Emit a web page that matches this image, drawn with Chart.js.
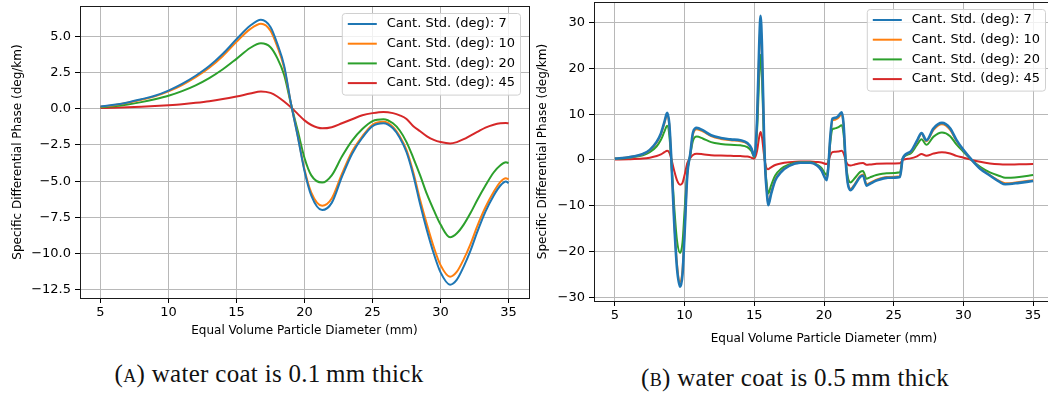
<!DOCTYPE html>
<html>
<head>
<meta charset="utf-8">
<script src="https://cdn.jsdelivr.net/npm/chart.js@4/dist/chart.umd.min.js"></script>
<style>
  html, body { margin: 0; padding: 0; background: #fff; overflow: hidden; }
  #wrap { position: relative; width: 1048px; height: 396px; overflow: hidden; }
  .panel { position: absolute; top: 0; width: 530px; height: 350px; }
  #panel-a { left: 0; }
  #panel-b { left: 524px; }
  .caption {
    position: absolute;
    font-family: 'Liberation Serif', 'DejaVu Serif', serif;
    font-size: 25px;
    letter-spacing: 0.3px;
    color: #111;
    white-space: nowrap;
    transform: translate(-50%, -50%);
  }
  .sc { font-variant: small-caps; }
</style>
</head>
<body>
<div id="wrap">
  <div class="panel" id="panel-a"><canvas id="chart-a"></canvas></div>
  <div class="panel" id="panel-b"><canvas id="chart-b"></canvas></div>
  <div class="caption" style="left:269px; top:374px;">(<span class="sc">a</span>) water coat is 0.1&#8201;mm thick</div>
  <div class="caption" style="left:795px; top:378px;">(<span class="sc">b</span>) water coat is 0.5&#8201;mm thick</div>
</div>
<script>
'use strict';

const LABELS  = ['Cant. Std. (deg): 7', 'Cant. Std. (deg): 10', 'Cant. Std. (deg): 20', 'Cant. Std. (deg): 45'];
const COLORS  = ['#1f77b4', '#ff7f0e', '#2ca02c', '#d62728'];
const X_TICKS = [5, 10, 15, 20, 25, 30, 35];

// (A) water coat 0.1 mm
const sizesA = [5, 6, 7, 8, 9, 10, 11, 12, 13, 14, 15, 16, 16.8, 17.5, 18, 18.5, 19, 19.5, 20, 20.5,
  21.3, 22, 22.75, 23.5, 24.25, 25, 25.8, 26.5, 27, 27.5, 28, 28.5, 29, 29.5, 30, 30.7,
  31.2, 31.7, 32.2, 32.7, 33.3, 33.9, 34.4, 34.8, 35];
const kdpA7  = [0.16, 0.28, 0.44, 0.66, 0.9, 1.26, 1.72, 2.28, 2.95, 3.8, 4.8, 5.73, 6.15, 5.65, 4.5, 3.0, 0.4, -1.9, -4.3, -6.0,
  -7.0, -6.5, -4.7, -3.1, -2.0, -1.2, -1.0, -1.35, -2.0, -3.0, -4.6, -6.6, -8.4, -10.0, -11.3, -12.15,
  -11.8, -10.9, -9.8, -8.5, -7.1, -6.0, -5.3, -5.02, -5.13];
const kdpA10 = [0.14, 0.25, 0.41, 0.62, 0.86, 1.2, 1.64, 2.18, 2.83, 3.65, 4.62, 5.5, 5.88, 5.4, 4.3, 2.85, 0.38, -1.85, -4.2, -5.8,
  -6.7, -6.2, -4.5, -2.95, -1.9, -1.1, -0.9, -1.25, -1.9, -2.85, -4.4, -6.3, -8.0, -9.55, -10.8, -11.6,
  -11.25, -10.4, -9.35, -8.1, -6.8, -5.75, -5.05, -4.8, -4.88];
const kdpA20 = [0.1, 0.18, 0.3, 0.46, 0.66, 0.9, 1.22, 1.62, 2.12, 2.73, 3.45, 4.2, 4.52, 4.25, 3.5, 2.35, 0.35, -1.5, -3.4, -4.6,
  -5.1, -4.6, -3.3, -2.2, -1.4, -0.85, -0.72, -1.0, -1.5, -2.3, -3.4, -4.6, -5.9, -7.0, -8.0, -8.88,
  -8.6, -8.0, -7.2, -6.3, -5.3, -4.4, -3.9, -3.7, -3.75];
const kdpA45 = [0.05, 0.07, 0.1, 0.14, 0.19, 0.25, 0.32, 0.41, 0.52, 0.67, 0.85, 1.05, 1.2, 1.1, 0.85, 0.5, 0.1, -0.35, -0.8, -1.12,
  -1.35, -1.27, -1.0, -0.72, -0.45, -0.3, -0.22, -0.3, -0.45, -0.7, -1.2, -1.55, -1.9, -2.15, -2.3, -2.4,
  -2.3, -2.1, -1.85, -1.6, -1.3, -1.1, -1.0, -0.98, -1.0];
const Y_TICKS_A = [5, 2.5, 0, -2.5, -5, -7.5, -10, -12.5];

// (B) water coat 0.5 mm
const sizesB = [5, 6, 7, 7.5, 8, 8.3, 8.55, 8.75, 8.9, 9.05, 9.25, 9.45, 9.68, 9.85, 10.0, 10.2, 10.4, 10.6, 10.87,
  11.3, 11.9, 12.6, 13.3, 14.0, 14.5, 14.8, 15.0, 15.2, 15.35, 15.45, 15.55, 15.7, 15.8, 15.9, 16.0,
  16.2, 16.5, 16.9, 17.5, 18.3, 19.0, 19.5, 19.8, 20.2, 20.3, 20.45, 20.6, 20.8, 21.0, 21.27, 21.4,
  21.55, 21.7, 21.9, 22.2, 22.6, 22.8, 23.05, 23.3, 23.76, 24.5, 25.45, 25.65, 26.2, 26.67, 27.0,
  27.34, 27.86, 28.46, 29.05, 29.5, 30.0, 30.6, 31.2, 31.9, 32.6, 33.0, 34.0, 35.0];
const kdpB7  = [0.3, 0.6, 1.3, 2.2, 4.0, 5.8, 8.3, 10.3, 8.0, 0.0, -13.5, -23.5, -27.7, -25.0, -16.0, -3.0, 1.2, 6.0, 7.0,
  6.5, 5.4, 4.8, 4.5, 4.3, 3.7, 2.5, 0.8, 9.0, 25.0, 31.5, 25.0, 5.0, -3.0, -7.2, -9.9,
  -7.5, -4.5, -2.7, -1.3, -0.6, -0.6, -1.2, -2.2, -4.4, -2.0, 5.0, 9.0, 9.2, 9.5, 10.4, 8.0,
  0.0, -5.0, -6.6, -5.5, -3.7, -3.4, -5.6, -5.2, -4.5, -3.9, -3.7, 0.3, 1.8, 4.2, 5.9,
  4.3, 6.9, 8.1, 6.9, 4.4, 2.2, 0.0, -1.9, -3.4, -4.8, -5.3, -5.0, -4.6];
const kdpB10 = [0.3, 0.58, 1.25, 2.1, 3.85, 5.6, 8.0, 9.9, 7.7, 0.0, -13.0, -22.6, -26.7, -24.0, -15.4, -2.9, 1.1, 5.6, 6.7,
  6.25, 5.2, 4.6, 4.3, 4.1, 3.55, 2.4, 0.8, 8.5, 23.5, 29.8, 23.5, 4.8, -2.8, -6.8, -9.5,
  -7.2, -4.3, -2.6, -1.25, -0.6, -0.6, -1.15, -2.1, -4.2, -1.9, 4.8, 8.6, 8.8, 9.1, 10.0, 7.7,
  0.0, -4.8, -6.3, -5.3, -3.5, -3.2, -5.3, -5.0, -4.3, -3.7, -3.55, 0.3, 1.7, 4.0, 5.7,
  4.1, 6.6, 7.8, 6.6, 4.2, 2.1, 0.0, -1.8, -3.3, -4.6, -5.1, -4.8, -4.4];
const kdpB20 = [0.25, 0.5, 1.0, 1.7, 3.0, 4.4, 6.2, 7.5, 5.5, -0.5, -10.0, -17.5, -20.3, -18.0, -11.0, -2.5, 1.0, 4.2, 5.1,
  4.7, 3.9, 3.5, 3.3, 3.2, 2.8, 1.9, 0.6, 6.5, 18.0, 23.0, 18.0, 3.5, -2.0, -5.5, -7.3,
  -5.6, -3.4, -2.0, -1.0, -0.5, -0.5, -1.0, -1.7, -3.3, -1.5, 3.8, 6.7, 6.9, 7.1, 7.6, 5.8,
  0.0, -3.6, -4.9, -4.0, -2.6, -2.4, -4.1, -3.8, -3.3, -2.9, -2.7, 0.4, 1.4, 3.3, 4.5,
  3.3, 5.1, 6.0, 5.2, 3.4, 1.8, 0.0, -1.5, -2.7, -3.5, -3.9, -3.7, -3.3];
const kdpB45 = [0.1, 0.15, 0.3, 0.5, 0.85, 1.2, 1.7, 2.0, 1.6, 0.2, -2.3, -4.4, -5.4, -5.0, -3.3, -0.6, 0.4, 1.1, 1.35,
  1.25, 1.05, 0.95, 0.9, 0.85, 0.75, 0.5, 0.3, 2.0, 5.0, 6.1, 5.0, 1.0, -1.0, -1.9, -2.0,
  -1.6, -1.1, -0.75, -0.5, -0.35, -0.35, -0.45, -0.55, -0.9, -0.4, 1.0, 1.7, 1.8, 1.85, 2.0, 1.5,
  0.0, -1.0, -1.2, -1.0, -0.7, -0.65, -1.05, -1.0, -0.85, -0.75, -0.7, 0.0, 0.35, 0.8, 1.3,
  0.9, 1.4, 1.7, 1.4, 0.9, 0.5, 0.0, -0.4, -0.75, -0.95, -1.0, -0.95, -0.9];
const Y_TICKS_B = [30, 20, 10, 0, -10, -20, -30];

Chart.defaults.font.family = '"DejaVu Sans", sans-serif';
Chart.defaults.color = '#000';

// matplotlib-style box around the axes
const spines = {
  id: 'spines',
  afterDatasetsDraw(chart) {
    const { ctx, chartArea: a } = chart;
    ctx.save();
    ctx.strokeStyle = '#1a1a1a';
    ctx.lineWidth = 1;
    ctx.strokeRect(Math.round(a.left) + 0.5, Math.round(a.top) + 0.5,
      Math.round(a.right - a.left), Math.round(a.bottom - a.top));
    ctx.restore();
  },
};

// legend drawn inside the axes, upper right
const insideLegend = {
  id: 'insideLegend',
  afterDraw(chart) {
    const { ctx, chartArea: a } = chart;
    const sets = chart.data.datasets;
    ctx.save();
    ctx.font = '13px "DejaVu Sans"';
    const textW = Math.max(...sets.map(d => ctx.measureText(d.label).width));
    const rowH = 19.7;
    const w = 6 + 29 + 10 + textW + 5;
    const h = 11 + rowH * (sets.length - 1) + 11.5;
    const x = a.right - 9 - w;
    const y = a.top + 7;
    ctx.beginPath();
    ctx.roundRect(x + 0.5, y + 0.5, w, h, 3);
    ctx.fillStyle = 'rgba(255,255,255,0.8)';
    ctx.fill();
    ctx.strokeStyle = '#d0d0d0';
    ctx.lineWidth = 1;
    ctx.stroke();
    sets.forEach((d, i) => {
      const ry = y + 11 + i * rowH;
      ctx.beginPath();
      ctx.moveTo(x + 6, ry);
      ctx.lineTo(x + 35, ry);
      ctx.strokeStyle = d.borderColor;
      ctx.lineWidth = 2;
      ctx.stroke();
      ctx.fillStyle = '#000';
      ctx.textBaseline = 'middle';
      ctx.fillText(d.label, x + 45, ry);
    });
    ctx.restore();
  },
};

const fmt = v => String(v).replace('-', '\u2212');

function makeChart(id, sizes, series, yTicks, yRange, lay) {
  const datasets = series.map((ys, i) => ({
    label: LABELS[i],
    data: sizes.map((x, j) => ({ x, y: ys[j] })),
    borderColor: COLORS[i],
    backgroundColor: COLORS[i],
    borderWidth: lay.lineW[i],
    pointRadius: 0,
    cubicInterpolationMode: 'monotone',
    fill: false,
  }));

  return new Chart(document.getElementById(id), {
    type: 'line',
    data: { datasets },
    options: {
      responsive: true,
      maintainAspectRatio: false,
      animation: false,
      events: [],
      layout: { padding: { left: 0, top: lay.padTop, right: lay.padRight, bottom: 0 } },
      plugins: { legend: { display: false }, tooltip: { enabled: false } },
      scales: {
        x: {
          type: 'linear',
          min: 3.5,
          max: 36.5,
          afterBuildTicks: s => { s.ticks = X_TICKS.map(v => ({ value: v })); },
          afterFit: s => { s.height = lay.xHeight; s.paddingLeft = 0; s.paddingRight = 0; },
          ticks: { font: { size: 13 }, color: '#000', padding: 2, maxRotation: 0, callback: v => fmt(v) },
          grid: { color: '#b8b8b8', lineWidth: 1, tickColor: '#000', tickLength: 5 },
          border: { display: false },
          title: {
            display: true,
            text: 'Equal Volume Particle Diameter (mm)',
            font: { size: 12 },
            color: '#000',
            padding: { top: 0, bottom: lay.xTitlePad },
          },
        },
        y: {
          type: 'linear',
          min: yRange[0],
          max: yRange[1],
          afterBuildTicks: s => { s.ticks = yTicks.map(v => ({ value: v })); },
          afterFit: s => { s.width = lay.yWidth; s.paddingTop = 0; s.paddingBottom = 0; },
          ticks: { font: { size: 13 }, color: '#000', padding: 4, callback: v => fmt(lay.yFmt(v)) },
          grid: { color: '#b8b8b8', lineWidth: 1, tickColor: '#000', tickLength: 5 },
          border: { display: false },
          title: {
            display: true,
            text: 'Specific Differential Phase (deg/km)',
            font: { size: 12 },
            color: '#000',
            padding: { top: lay.yTitlePad, bottom: 0 },
          },
        },
      },
    },
    plugins: [spines, insideLegend],
  });
}

makeChart('chart-a', sizesA, [kdpA7, kdpA10, kdpA20, kdpA45], Y_TICKS_A, [-13.07, 7.1], {
  padTop: 6, padRight: 1, xHeight: 52, yWidth: 80, xTitlePad: 11.5, yTitlePad: 10.8,
  lineW: [2, 2, 2, 2], yFmt: v => v.toFixed(1),
});

makeChart('chart-b', sizesB, [kdpB7, kdpB10, kdpB20, kdpB45], Y_TICKS_B, [-30.8, 34.5], {
  padTop: 2, padRight: 0, xHeight: 49, yWidth: 70, xTitlePad: 3.8, yTitlePad: 11.8,
  lineW: [2.6, 2, 2, 2], yFmt: v => v.toFixed(0),
});
</script>
</body>
</html>
